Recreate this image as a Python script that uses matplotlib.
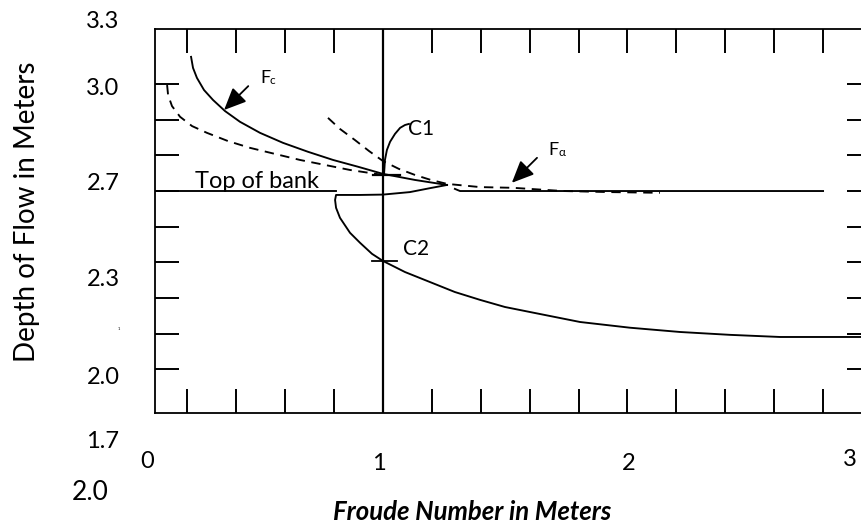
import matplotlib
matplotlib.use("Agg")
import matplotlib.pyplot as plt
import numpy as np

plt.rcParams['font.family'] = ['Lato', 'DejaVu Sans']

# ---------------- data (Froude number, depth in m) ----------------
fc_x = [0.215, 0.223, 0.239, 0.268, 0.305, 0.354, 0.415, 0.497, 0.591, 0.693, 0.796, 0.898, 1.000, 1.131, 1.262]
fc_y = [3.076, 3.045, 3.017, 2.983, 2.955, 2.924, 2.894, 2.863, 2.835, 2.810, 2.787, 2.768, 2.748, 2.731, 2.717]

low_dash_x = [0.117, 0.121, 0.137, 0.170, 0.219, 0.280, 0.366, 0.456, 0.558, 0.661, 0.763, 0.865, 1.000]
low_dash_y = [2.997, 2.969, 2.938, 2.908, 2.882, 2.863, 2.840, 2.821, 2.804, 2.787, 2.773, 2.759, 2.745]

falpha_x = [0.775, 0.824, 0.885, 0.943, 1.000, 1.065, 1.131, 1.196, 1.262, 1.397, 1.532, 1.736, 1.928, 2.133]
falpha_y = [2.905, 2.874, 2.843, 2.812, 2.784, 2.762, 2.745, 2.731, 2.720, 2.711, 2.709, 2.700, 2.697, 2.695]

bank_x = [0.076, 0.808]
bank_y = [2.70, 2.70]

right_level_x = [1.294, 1.315, 2.800]
right_level_y = [2.706, 2.700, 2.700]

c2_x = [1.262, 1.192, 1.110, 1.000, 0.906, 0.808, 0.804, 0.808, 0.824, 0.865, 0.906, 0.955, 1.000,
        1.090, 1.192, 1.294, 1.397, 1.499, 1.601, 1.806, 2.010, 2.215, 2.419, 2.624, 2.828, 2.996]
c2_y = [2.717, 2.708, 2.697, 2.690, 2.689, 2.689, 2.675, 2.653, 2.625, 2.583, 2.555, 2.524, 2.504,
        2.473, 2.445, 2.417, 2.395, 2.375, 2.361, 2.333, 2.317, 2.305, 2.297, 2.291, 2.291, 2.291]

c1_x = [1.004, 1.006, 1.008, 1.016, 1.029, 1.049, 1.070, 1.090, 1.106]
c1_y = [2.745, 2.765, 2.787, 2.815, 2.838, 2.860, 2.877, 2.885, 2.888]

critical_x = 1.0
c1_mark = (2.745, 0.96, 1.07)
c2_mark = (2.504, 0.955, 1.057)

x_tick_labels = ["0", "1", "2", "3"]
y_tick_labels = ["3.3", "3.0", "2.7", "2.3", "2.0", "1.7"]
stray_label = "2.0"

x_title = "Froude Number in Meters"
y_title = "Depth of Flow in Meters"

# ---------------- layout ----------------
W, H = 861, 523
fig = plt.figure(figsize=(W / 100, H / 100), dpi=100)

def fx(px):
    return px / W

def fy(py):
    return 1 - py / H

box_l, box_r, box_t, box_b = 155, 871, 29, 413
ax = fig.add_axes([fx(box_l), fy(box_b), fx(box_r - box_l), (box_b - box_t) / H])
ax.set_xlim(0.0675, 2.996)
ax.set_ylim(2.078, 3.154)

for s in ax.spines.values():
    s.set_linewidth(1.3)
    s.set_color('black')

ax.set_xticks(np.arange(0.2, 2.81, 0.2))
ax.set_yticks(np.arange(2.2, 3.01, 0.1))
ax.tick_params(axis='both', which='both', direction='in', length=17.5, width=1.4,
               top=True, bottom=True, left=True, right=True,
               labelbottom=False, labelleft=False, color='black')

lw = 1.35
ax.plot(fc_x, fc_y, color='black', lw=lw, solid_joinstyle='round')
ax.plot(low_dash_x, low_dash_y, color='black', lw=lw, linestyle=(0, (5, 3.5)))
ax.plot(falpha_x, falpha_y, color='black', lw=lw, linestyle=(0, (5, 3.5)))
ax.plot(bank_x, bank_y, color='black', lw=lw)
ax.plot(right_level_x, right_level_y, color='black', lw=lw)
ax.plot(c2_x, c2_y, color='black', lw=lw, solid_joinstyle='round')
ax.plot(c1_x, c1_y, color='black', lw=lw, solid_joinstyle='round')
ax.axvline(critical_x, color='black', lw=1.6)
ax.plot([c1_mark[1], c1_mark[2]], [c1_mark[0]] * 2, color='black', lw=1.6)
ax.plot([c2_mark[1], c2_mark[2]], [c2_mark[0]] * 2, color='black', lw=1.3)

# in-plot annotations
ax.text(0.231, 2.709, "Top of bank", fontsize=17, ha='left', va='baseline')
ax.text(1.102, 2.857, "C1", fontsize=15, ha='left', va='baseline')
ax.text(1.082, 2.521, "C2", fontsize=15, ha='left', va='baseline')

ax.text(0.497, 3.003, "F", fontsize=13, ha='left', va='baseline')
ax.text(0.537, 3.000, "c", fontsize=8.5, ha='left', va='baseline')
ax.text(1.675, 2.801, "F", fontsize=13, ha='left', va='baseline')
ax.text(1.716, 2.798, "α", fontsize=8.5, ha='left', va='baseline')

arrow = dict(arrowstyle='-|>,head_length=0.9,head_width=0.4', color='black', lw=1.3,
             shrinkA=0, shrinkB=0, mutation_scale=15)
ax.annotate("", xy=(0.350, 2.927), xytext=(0.449, 2.994), arrowprops=arrow)
ax.annotate("", xy=(1.527, 2.723), xytext=(1.630, 2.793), arrowprops=arrow)

# tick labels (placed as in the figure)
y_label_pos = [(103, 22), (103, 88), (103, 183), (103, 280), (103, 377), (103, 441)]
for lab, (px, py) in zip(y_tick_labels, y_label_pos):
    fig.text(fx(px), fy(py), lab, fontsize=17, ha='center', va='center')

x_label_pos = [(147, 462), (379, 464), (629, 464), (850, 460)]
for lab, (px, py) in zip(x_tick_labels, x_label_pos):
    fig.text(fx(px), fy(py), lab, fontsize=17, ha='center', va='center')

fig.text(fx(90), fy(492), stray_label, fontsize=19, ha='center', va='center')
fig.text(fx(119), fy(329), "1", fontsize=3, ha='center', va='center')

fig.text(fx(472), fy(512), x_title, fontsize=18.5, fontweight='bold', fontstyle='italic',
         ha='center', va='center')
fig.text(fx(27), fy(212), y_title, fontsize=20, rotation=90, ha='center', va='center')

fig.savefig("out.png", dpi=100)
